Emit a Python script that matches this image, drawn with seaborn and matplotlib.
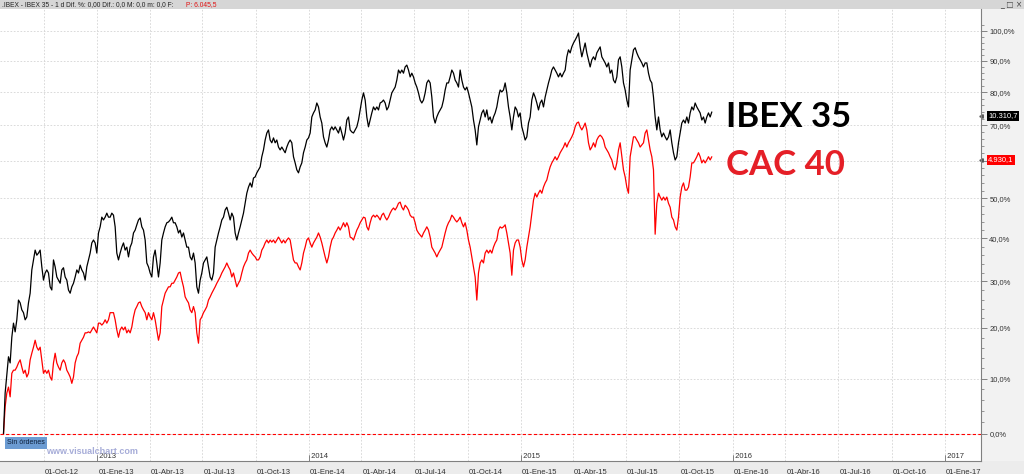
import matplotlib
matplotlib.use('Agg')
import numpy as np
import pandas as pd
import matplotlib.pyplot as plt
import matplotlib.transforms as mtransforms
from matplotlib.patches import Rectangle
import seaborn as sns

W, H = 1024, 474

# % change since the start (cierre), roughly every 2 sessions
ibex_pct = [
    0.0, 7.3, 10.7, 14.2, 13.0, 18.1, 21.0, 19.2, 21.7, 25.9, 25.3, 23.8, 23.2, 21.7, 22.3, 25.3,
    27.4, 32.6, 34.9, 37.2, 36.0, 36.5, 37.2, 33.3, 30.3, 31.9, 32.6, 31.9, 28.8, 28.1, 34.9, 33.3,
    31.0, 30.3, 29.6, 32.6, 33.1, 31.0, 30.3, 28.1, 27.4, 28.8, 29.6, 31.0, 32.6, 31.9, 33.7, 32.6,
    31.9, 30.3, 33.3, 34.9, 36.5, 38.9, 39.6, 38.9, 36.5, 41.3, 42.8, 45.2, 44.5, 45.2, 46.2, 45.2,
    45.2, 46.2, 45.7, 42.8, 36.5, 34.9, 36.5, 37.9, 38.9, 37.2, 37.9, 35.6, 37.9, 38.9, 41.3, 42.0,
    43.3, 44.5, 45.0, 42.8, 42.0, 39.6, 34.2, 33.3, 31.9, 31.0, 35.6, 37.2, 34.2, 31.0, 34.2, 39.6,
    41.3, 42.8, 43.8, 44.0, 44.5, 45.2, 43.8, 43.8, 42.8, 41.3, 42.0, 40.3, 41.3, 39.6, 37.9, 37.9,
    35.6, 34.9, 36.5, 34.2, 28.8, 27.4, 30.3, 31.9, 34.2, 34.9, 35.6, 33.3, 31.0, 30.3, 31.9, 37.9,
    39.6, 41.3, 42.8, 44.5, 45.2, 47.0, 47.7, 46.2,
    44.5, 46.2, 45.2, 41.3, 39.6, 41.3, 42.8, 44.5, 46.2, 48.7, 51.3, 52.9, 54.0, 52.9, 55.3, 55.6,
    56.7, 57.5, 58.3, 61.1, 63.0, 65.8, 67.8, 68.7, 65.8, 65.0, 66.4, 65.0, 65.8, 63.8, 63.0, 63.8,
    63.0, 62.2, 63.8, 65.0, 65.8, 65.0, 61.1, 59.4, 57.5, 56.7, 58.3, 59.4, 62.2, 63.8, 65.8, 66.4,
    67.8, 72.5, 73.7, 74.6, 76.7, 75.5, 72.5, 70.7, 66.7, 65.0, 63.8, 65.8, 68.7, 69.6, 68.7, 69.6,
    68.7, 67.8, 69.6, 67.8, 65.8, 67.8, 71.6, 72.5,
    68.7, 68.1, 67.8, 68.7, 69.6, 71.6, 74.6, 77.6, 79.8, 77.6, 72.5, 69.6, 71.6, 73.7, 75.5, 74.6,
    75.5, 74.6, 76.7, 77.0, 77.6, 76.7, 74.6, 75.5, 77.6, 79.8, 80.7, 81.6, 83.8, 87.0, 86.0, 87.0,
    86.0, 88.0, 88.6, 87.0, 84.8, 86.0, 84.8, 82.9, 81.6, 79.8, 77.6, 76.7, 77.6, 79.8, 82.9, 83.8,
    82.9, 78.5, 72.5, 70.7, 72.5, 73.7, 74.6, 75.5, 77.6, 80.7, 82.9, 82.9, 84.8, 87.0, 86.0, 83.8,
    82.9, 81.6, 87.0, 83.8, 81.6, 80.7, 81.6, 79.8,
    77.6, 75.5, 71.6, 68.7, 64.4, 69.6, 71.6, 73.7, 74.6, 72.5, 74.6, 71.6, 72.5, 70.7, 72.5, 73.7,
    75.5, 78.5, 80.7, 80.1, 80.7, 82.9, 79.8, 75.5, 72.5, 68.7, 72.5, 75.5, 74.6, 72.5, 73.7, 69.6,
    67.8, 65.8, 66.7, 70.7, 72.5, 77.6, 79.8, 78.5, 76.7, 74.6, 76.7, 77.6, 75.5, 78.5, 80.7, 82.9,
    84.8, 87.0, 88.0, 87.0, 86.0, 84.8, 86.0, 84.8, 86.0, 87.0, 91.3, 93.6, 92.6, 94.6, 95.9, 96.9,
    98.0, 99.3, 94.6, 91.3, 93.6, 95.9, 92.6, 90.3,
    88.0, 90.3, 91.3, 90.3, 92.6, 93.6, 94.6, 91.3, 90.3, 89.3, 88.0, 89.3, 86.0, 87.0, 83.8, 82.9,
    84.8, 90.3, 91.3, 88.0, 82.9, 80.7, 77.6, 75.5, 87.0, 90.3, 93.6, 94.3, 92.6, 91.3, 90.3, 89.3,
    88.0, 89.3, 89.3, 86.0, 83.8, 82.9, 78.5, 72.5, 68.7, 72.5, 68.7, 66.7, 67.8, 66.7, 65.8, 66.7,
    68.7, 65.0, 62.2, 60.2, 61.1, 65.0, 67.8, 70.7, 71.6, 70.7, 72.5, 70.7, 73.7, 75.5, 74.6, 76.7,
    75.5, 74.6, 73.7, 71.6, 72.5, 70.7, 72.5, 73.7, 72.5, 74.0,
]

cac_pct = [
    0.0, 4.8, 7.3, 8.4, 6.6, 11.0, 11.6, 11.6, 12.2, 13.0, 13.6, 12.2, 11.0, 11.6, 10.3, 11.0,
    13.6, 14.9, 16.1, 17.5, 16.1, 15.5, 16.1, 13.6, 11.0, 11.6, 11.0, 11.6, 10.3, 9.7, 13.0, 14.9,
    13.0, 12.2, 11.6, 13.0, 13.6, 13.0, 11.6, 11.0, 10.3, 9.1, 10.3, 13.0, 14.2, 14.9, 16.9, 17.5,
    18.1, 19.0, 19.0, 19.2, 19.0, 19.6, 20.2, 19.6, 19.0, 21.0, 21.0, 20.6, 21.0, 21.7, 21.0, 21.7,
    23.2, 23.2, 23.2, 21.7, 19.6, 18.1, 19.6, 20.2, 19.6, 20.2, 19.0, 19.6, 19.0, 20.2, 22.3, 23.8,
    24.5, 25.3, 25.5, 24.5, 23.8, 23.2, 21.7, 23.2, 22.3, 21.7, 23.2, 21.7, 19.6, 17.5, 19.0, 24.5,
    25.9, 27.4, 28.1, 28.8, 28.8, 29.6, 29.6, 30.3, 31.0, 31.9, 32.1, 30.3, 28.8, 26.6, 25.9, 25.3,
    23.8, 23.2, 24.5, 23.2, 19.0, 16.9, 21.7, 22.3, 23.2, 23.8, 24.5, 25.9, 26.6, 27.4, 28.1, 28.8,
    29.6, 30.3, 31.0, 31.9, 32.6, 33.3, 34.2, 33.3,
    32.6, 31.0, 31.9, 30.3, 28.8, 29.6, 30.3, 31.9, 33.3, 34.2, 34.9, 36.5, 37.2, 36.5, 36.0, 35.6,
    34.9, 34.9, 35.6, 37.2, 37.9, 38.9, 39.6, 38.9, 39.6, 39.1, 39.6, 38.9, 39.6, 40.3, 39.6, 38.9,
    39.6, 38.9, 39.6, 40.1, 39.6, 37.2, 34.9, 34.2, 34.2, 33.3, 32.6, 34.2, 36.5, 37.9, 39.6, 40.1,
    38.9, 37.9, 38.9, 39.6, 40.3, 41.3, 40.3, 38.9, 37.2, 35.6, 34.2, 35.6, 37.9, 39.6, 40.3, 41.3,
    42.0, 42.8, 42.0, 42.8, 43.8, 42.8, 43.8, 42.8,
    40.3, 40.1, 39.6, 40.8, 42.0, 42.8, 43.8, 44.5, 45.2, 45.0, 42.8, 42.0, 43.8, 45.2, 45.7, 45.2,
    45.7, 45.2, 44.5, 45.7, 46.2, 45.2, 44.5, 45.2, 46.2, 47.0, 47.5, 47.0, 47.7, 48.7, 49.0, 47.7,
    47.0, 48.2, 47.7, 47.0, 45.7, 45.2, 45.2, 43.8, 42.0, 41.3, 40.8, 40.3, 41.3, 42.0, 42.8, 42.0,
    40.3, 37.9, 37.2, 36.5, 35.6, 36.5, 37.2, 37.9, 39.6, 41.3, 42.8, 43.8, 44.5, 45.7, 45.2, 44.5,
    44.0, 44.5, 45.2, 43.8, 42.8, 43.8, 42.0, 39.6,
    37.9, 35.6, 33.3, 31.0, 25.9, 31.9, 34.2, 34.9, 34.2, 36.5, 37.2, 36.5, 37.2, 36.5, 37.9, 38.9,
    39.6, 42.0, 42.8, 42.5, 42.8, 43.3, 41.3, 38.9, 36.5, 31.4, 37.2, 38.9, 39.6, 39.6, 37.9, 34.9,
    33.3, 34.9, 37.9, 40.3, 42.8, 46.2, 49.5, 51.3, 50.3, 51.3, 52.1, 51.3, 52.9, 54.0, 54.8, 56.7,
    58.3, 59.4, 60.2, 61.1, 60.2, 61.1, 62.2, 63.0, 63.8, 65.0, 63.8, 65.0, 65.8, 66.7, 67.8, 69.6,
    70.7, 71.0, 69.6, 68.7, 69.6, 70.7, 68.7, 65.0,
    63.0, 63.8, 65.0, 63.8, 65.8, 66.7, 67.2, 66.7, 65.8, 63.8, 63.0, 62.2, 61.1, 60.2, 58.3, 57.5,
    59.4, 63.0, 65.0, 61.1, 57.5, 55.6, 52.9, 51.3, 61.1, 63.8, 66.7, 66.7, 65.8, 65.0, 63.8, 64.4,
    65.0, 67.8, 68.7, 65.8, 63.0, 61.1, 57.5, 41.0, 48.7, 51.3, 50.3, 49.5, 50.3, 49.5, 50.3, 48.7,
    47.7, 45.2, 44.5, 42.8, 42.0, 45.2, 50.3, 52.9, 54.0, 52.1, 52.1, 52.9, 55.6, 59.4, 59.4, 60.2,
    61.1, 62.2, 61.1, 59.4, 60.2, 59.4, 60.2, 61.1, 60.2, 61.1,
]

first_day, last_day = '2012-07-23', '2015-11-26'
view_start, view_end = '2012-07-17', '2017-03-04'
quarter_ticks = pd.date_range('2012-10-01', '2017-01-01', freq='QS')
mes = {1: 'Ene', 4: 'Abr', 7: 'Jul', 10: 'Oct'}
pct_ticks = np.arange(0, 101, 10)
ibex_last_pct, ibex_last_txt = 72.8, '10.310,7'
cac_last_pct, cac_last_txt = 60.2, '4.930,1'
title_txt = '.IBEX - IBEX 35 - 1 d Dif. %: 0,00 Dif.: 0,0 M: 0,0 m: 0,0 F:'
title_p = 'P: 6.045,5'

dates = pd.date_range(first_day, last_day, periods=len(ibex_pct))
df = pd.concat([
    pd.DataFrame({'fecha': dates, 'pct': ibex_pct, 'serie': 'IBEX 35'}),
    pd.DataFrame({'fecha': dates, 'pct': cac_pct, 'serie': 'CAC 40'}),
], ignore_index=True)
df['nivel'] = 1 + df['pct'] / 100

sns.set_style('white')
plt.rcParams['font.family'] = ['Liberation Sans', 'DejaVu Sans']

fig = plt.figure(figsize=(W / 100, H / 100), dpi=100)


def box(x0, y0, x1, y1):
    # pixel box (top-left origin) -> figure fraction rect
    return [x0 / W, 1 - y1 / H, (x1 - x0) / W, (y1 - y0) / H]


def fx(x):
    return x / W


def fy(y):
    return 1 - y / H


# window chrome, drawn behind the axes
for (x0, y0, x1, y1), c in [((0, 0, W, 9), '#d6d6d6'), ((981, 9, W, 474), '#f2f2f2'),
                            ((0, 461, W, 474), '#ececec')]:
    r = box(x0, y0, x1, y1)
    fig.patches.append(Rectangle((r[0], r[1]), r[2], r[3], transform=fig.transFigure,
                                 facecolor=c, edgecolor='none', zorder=-5))

ax = fig.add_axes(box(0, 9, 981, 461))
ax.set_facecolor('white')
ax.set_zorder(1)

sns.lineplot(data=df, x='fecha', y='nivel', hue='serie', estimator=None,
             palette={'IBEX 35': 'black', 'CAC 40': '#ff0000'}, hue_order=['CAC 40', 'IBEX 35'],
             linewidth=0.9, legend=False, ax=ax)

ax.set_yscale('log', base=2)
ax.set_ylim(0.9546, 2.077)
ax.set_xlim(pd.Timestamp(view_start), pd.Timestamp(view_end))
ax.set_xlabel('')
ax.set_ylabel('')

# y axis on the right, % labels
ax.yaxis.tick_right()
ax.set_yticks(1 + pct_ticks / 100)
ax.set_yticklabels([f'{p},0%' for p in pct_ticks])
ax.set_yticks(1 + np.arange(0, 104, 2) / 100, minor=True)
ax.yaxis.set_minor_formatter(plt.NullFormatter())
ax.tick_params(axis='y', which='major', direction='out', length=4, width=0.6, color='#707070',
               labelsize=5.5, labelcolor='#333333', pad=2)
ax.tick_params(axis='y', which='minor', direction='out', length=2, width=0.5, color='#707070')

# x axis: quarter ticks, spanish month names
ax.set_xticks(quarter_ticks)
ax.set_xticklabels([f'01-{mes[d.month]}-{d.strftime("%y")}' for d in quarter_ticks],
                   ha='left')
ax.xaxis.set_minor_locator(plt.NullLocator())
ax.tick_params(axis='x', direction='out', length=5, width=0.6, color='#707070',
               labelsize=5.5, labelcolor='#333333', pad=0.5)
for lab in ax.get_xticklabels():
    lab.set_transform(lab.get_transform() + mtransforms.ScaledTranslation(1 / 100, 0, fig.dpi_scale_trans))

for d in quarter_ticks:
    if d.month == 1:
        ax.axvline(d, ymin=0, ymax=6 / 452, color='#707070', lw=0.6)
        ax.text(d, 0.003, f' {d.year}', transform=mtransforms.blended_transform_factory(ax.transData, ax.transAxes),
                fontsize=5.5, color='#333333', va='bottom', ha='left')

ax.grid(True, which='major', color='#d4d4d4', linestyle=(0, (2, 2)), linewidth=0.6)
for s in ['top', 'left']:
    ax.spines[s].set_visible(False)
for s in ['right', 'bottom']:
    ax.spines[s].set_color('#808080')
    ax.spines[s].set_linewidth(0.8)

ax.axhline(1.0, color='#ff0000', linestyle=(0, (3, 2)), linewidth=0.8)

# last value boxes
tr = mtransforms.blended_transform_factory(ax.transAxes, ax.transData)
for p, txt, c in [(ibex_last_pct, ibex_last_txt, 'black'), (cac_last_pct, cac_last_txt, '#ff0000')]:
    ax.text(1.0075, 1 + p / 100, txt, transform=tr, fontsize=5.5, color='white', va='center',
            ha='left', clip_on=False, bbox=dict(boxstyle='square,pad=0.2', fc=c, ec='none'))
    ax.plot([1.0], [1 + p / 100], transform=tr, marker='<', markersize=2.5, color='#555555',
            clip_on=False)

# big labels
fig.text(fx(726), fy(117), 'IBEX 35', fontsize=25, fontweight='bold', family='Lato',
         color='black', va='center', ha='left')
fig.text(fx(726), fy(165), 'CAC 40', fontsize=25, fontweight='bold', family='Lato',
         color='#e51f27', va='center', ha='left')

# title bar
fig.text(fx(2), fy(4.5), title_txt, fontsize=4.8, color='#222222', va='center', ha='left')
fig.text(fx(186), fy(4.5), title_p, fontsize=4.8, color='#e01010', va='center', ha='left')
fig.text(fx(1000), fy(4.5), '_ \u25a1 \u00d7', fontsize=5.5, color='#444444', va='center',
         ha='left', family='DejaVu Sans')

# orders tag and watermark
fig.text(fx(7), fy(443), 'Sin órdenes', fontsize=5, color='#0c1f3a', va='center', ha='left',
         bbox=dict(boxstyle='square,pad=0.3', fc='#6b9bd2', ec='none'))
fig.text(fx(46), fy(452), 'www.visualchart.com', fontsize=6.5, fontweight='bold',
         color='#a6acd8', va='center', ha='left', zorder=5)

fig.savefig('out.png', dpi=100)
